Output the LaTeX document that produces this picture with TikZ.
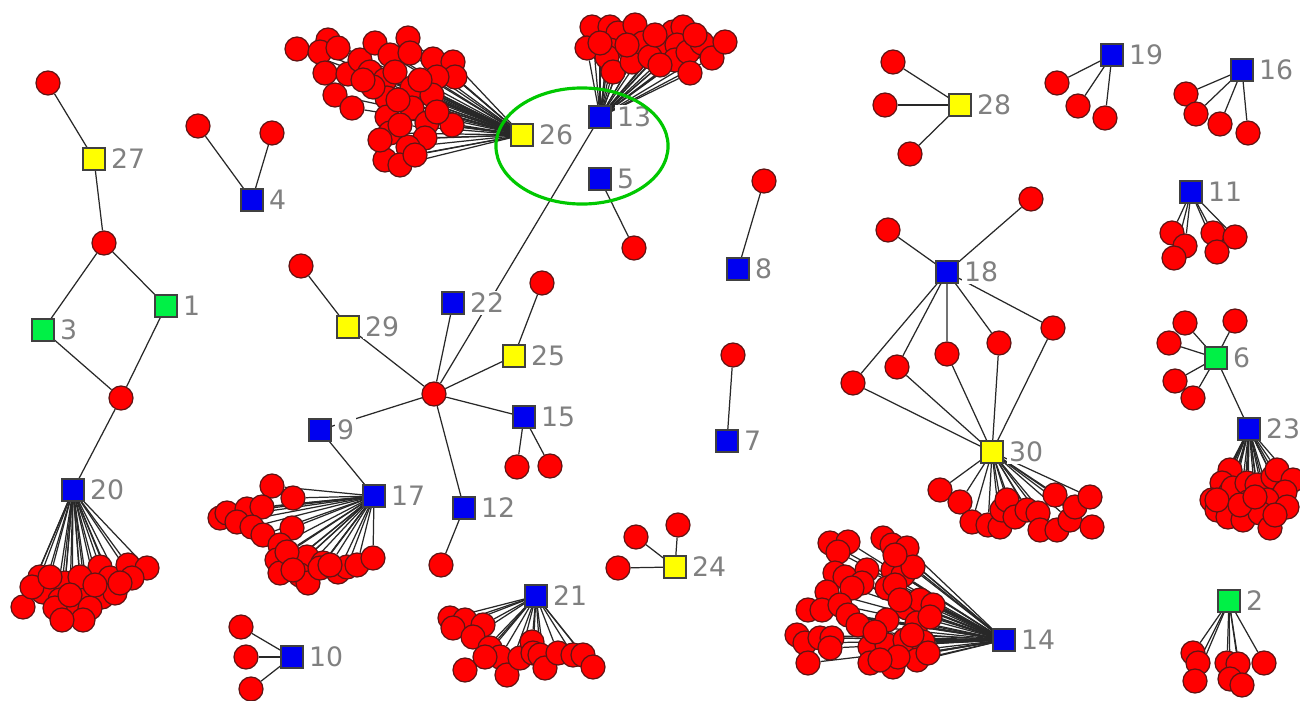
\documentclass[tikz,border=0pt]{standalone}
\usepackage{fontspec}
\usetikzlibrary{shapes.geometric}
\newfontfamily\labfont{DejaVu Sans}
\pgfdeclarelayer{paper}\pgfdeclarelayer{bg}\pgfdeclarelayer{fg}
\pgfsetlayers{paper,bg,main,fg}
\definecolor{nred}{RGB}{255,0,0}
\definecolor{nredline}{RGB}{95,20,20}
\definecolor{nblue}{RGB}{0,0,240}
\definecolor{nyellow}{RGB}{255,255,0}
\definecolor{ngreen}{RGB}{0,240,70}
\definecolor{ring}{RGB}{0,200,0}
\definecolor{labgray}{RGB}{128,128,128}
\definecolor{edgecol}{RGB}{40,40,40}
\tikzset{
  leaf/.style={circle,minimum size=0.24cm,inner sep=0pt,fill=nred,draw=nredline,line width=0.35pt},
  hubsq/.style={rectangle,minimum size=0.22cm,inner sep=0pt,draw=black!75,line width=0.4pt},
  lab/.style={anchor=west,fill=white,inner sep=0.6pt,xshift=0.025cm,text=labgray,font=\labfont\fontsize{7.6}{8}\selectfont},
  edge/.style={draw=edgecol,line width=0.35pt}
}
\newcommand\fannodes[2]{\foreach \px/\py [count=\k] in #2 {\node[leaf] (#1-\k) at (\px,\py) {};}}
\newcommand\fanedges[2]{\foreach \px/\py [count=\k] in #2 {\draw[edge] (#1) -- (#1-\k);}}
\newcommand\hubnode[4]{%
  \node[hubsq,fill=#4] (#1) at (#2) {};
  \node[lab] (#1-lab) at (#1.east) {#3};}
% leaf lists
\def\Lfour{198/126, 272/133}
\def\Ltwentyfour{636/537, 678/525, 618/568}
\def\Lten{241/627, 246/657, 251/689}
\def\Ltwentyeight{893/62, 885/105, 910/154}
\def\Lnineteen{1057/83, 1078/106, 1105/118}
\def\Lsixteen{1186/94, 1196/114, 1220/124, 1248/133}
\def\Leleven{1172/233, 1185/246, 1174/258, 1213/233, 1235/237, 1217/252}
\def\Lsix{1185/323, 1235/321, 1169/343, 1175/381, 1193/398}
\def\Ltwo{1193/653, 1198/663, 1195/681, 1227/663, 1238/664, 1230/679, 1242/685, 1264/663}
\def\Ltwentysix{297/49, 328/40, 320/52, 338/48, 325/73, 348/74, 360/60, 375/43, 390/55, 408/38, 410/53, 433/59, 453/62, 455/77, 437/77, 370/72, 385/80, 395/72, 412/88, 335/95, 352/108, 387/98, 432/95, 387/117, 412/108, 427/123, 452/125, 390/133, 425/138, 408/147, 385/160, 400/165, 437/112, 373/87, 363/80, 400/125, 380/140, 415/155, 398/100, 420/80}
\def\Lthirteen{592/27, 610/27, 618/33, 635/25, 587/48, 610/50, 607/57, 613/72, 632/62, 643/43, 663/50, 673/32, 683/27, 677/45, 675/60, 688/52, 690/73, 702/43, 712/58, 725/42, 650/57, 627/45, 600/43, 655/35, 695/35, 660/65}
\def\Ltwenty{40/577, 23/607, 43/592, 65/583, 60/600, 72/613, 85/590, 100/567, 110/578, 102/597, 115/593, 128/565, 147/568, 132/578, 90/608, 55/608, 80/577, 32/587, 50/577, 83/620, 70/595, 95/585, 120/583, 62/620}
\def\Lseventeen{272/486, 293/498, 220/518, 227/513, 247/509, 262/507, 237/522, 252/527, 292/528, 263/535, 280/545, 277/560, 295/560, 307/557, 300/575, 280/573, 323/563, 338/572, 347/567, 357/565, 373/558, 308/583, 320/568, 287/552, 330/565, 293/570}
\def\Lfourteen{830/543, 848/542, 838/552, 883/538, 892/545, 907/548, 835/573, 845/577, 867/570, 862/583, 852/588, 893/570, 903/575, 913/567, 887/588, 895/585, 827/592, 808/610, 822/610, 840/605, 848/615, 858/625, 907/608, 920/600, 933/605, 887/620, 917/623, 930/617, 797/635, 805/643, 820/638, 832/638, 830/648, 808/663, 870/647, 887/645, 905/640, 923/642, 870/663, 893/667, 917/660, 928/653, 898/657, 880/660, 895/555, 900/600, 875/632, 912/635}
\def\Ltwentythree{1230/470, 1222/483, 1212/500, 1217/510, 1230/493, 1233/488, 1247/483, 1257/485, 1273/477, 1277/470, 1293/480, 1285/492, 1267/500, 1248/502, 1228/517, 1243/520, 1260/513, 1270/528, 1287/507, 1217/500, 1240/505, 1255/497, 1275/515}
\def\Lthirty{940/490, 960/502, 972/522, 988/525, 1000/527, 1002/510, 1007/500, 1015/517, 1027/510, 1038/513, 1040/530, 1055/495, 1057/530, 1070/520, 1075/507, 1090/497, 1092/527}
\def\Ltwentyone{450/618, 465/620, 483/625, 453/628, 473/637, 490/648, 500/657, 465/670, 507/675, 520/658, 532/642, 533/653, 540/655, 545/668, 558/653, 573/655, 583/655, 593/667, 485/657}
\def\Lshared{853/383, 897/367, 947/354, 999/343, 1053/328}
\begin{document}
\begin{tikzpicture}[x=0.01cm,y=-0.01cm]
\useasboundingbox (0,0) rectangle (1300,700);
\begin{pgfonlayer}{paper}
\fill[white] (0,0) rectangle (1300,700);
\end{pgfonlayer}
\begin{pgfonlayer}{fg}
\hubnode{s27}{94,159}{27}{nyellow}
\hubnode{s3}{43,330}{3}{ngreen}
\hubnode{s1}{166,306}{1}{ngreen}
\hubnode{s20}{73,490}{20}{nblue}
\hubnode{s4}{252,200}{4}{nblue}
\hubnode{s26}{522,135}{26}{nyellow}
\hubnode{s13}{600,117}{13}{nblue}
\hubnode{s5}{600,179}{5}{nblue}
\hubnode{s29}{348,327}{29}{nyellow}
\hubnode{s22}{453,303}{22}{nblue}
\hubnode{s25}{514,356}{25}{nyellow}
\hubnode{s15}{524,417}{15}{nblue}
\hubnode{s9}{320,430}{9}{nblue}
\hubnode{s17}{374,496}{17}{nblue}
\hubnode{s12}{464,508}{12}{nblue}
\hubnode{s10}{292,657}{10}{nblue}
\hubnode{s21}{536,596}{21}{nblue}
\hubnode{s24}{675,567}{24}{nyellow}
\hubnode{s8}{738,269}{8}{nblue}
\hubnode{s7}{727,441}{7}{nblue}
\hubnode{s28}{960,105}{28}{nyellow}
\hubnode{s19}{1112,55}{19}{nblue}
\hubnode{s16}{1242,70}{16}{nblue}
\hubnode{s11}{1191,192}{11}{nblue}
\hubnode{s18}{947,272}{18}{nblue}
\hubnode{s6}{1216,358}{6}{ngreen}
\hubnode{s23}{1249,429}{23}{nblue}
\hubnode{s30}{992,452}{30}{nyellow}
\hubnode{s14}{1004,640}{14}{nblue}
\hubnode{s2}{1229,601}{2}{ngreen}
\node[draw=ring,line width=0.9pt,ellipse,minimum width=1.72cm,minimum height=1.16cm,inner sep=0pt] (ring) at (582,146) {};
\end{pgfonlayer}
% single leaves
\node[leaf] (a1) at (48,83) {};
\node[leaf] (a2) at (104,243) {};
\node[leaf] (a3) at (121,398) {};
\node[leaf] (c0) at (434,394) {};
\node[leaf] (c29) at (301,266) {};
\node[leaf] (c25) at (542,283) {};
\node[leaf] (c15a) at (517,467) {};
\node[leaf] (c15b) at (550,466) {};
\node[leaf] (c12) at (441,565) {};
\node[leaf] (c5) at (634,248) {};
\node[leaf] (c8) at (764,181) {};
\node[leaf] (c7) at (733,355) {};
\node[leaf] (r1) at (888,230) {};
\node[leaf] (r2) at (1031,199) {};
\fannodes{m}{\Lshared}
\fannodes{s4}{\Lfour}
\fannodes{s24}{\Ltwentyfour}
\fannodes{s10}{\Lten}
\fannodes{s28}{\Ltwentyeight}
\fannodes{s19}{\Lnineteen}
\fannodes{s16}{\Lsixteen}
\fannodes{s11}{\Leleven}
\fannodes{s6}{\Lsix}
\fannodes{s2}{\Ltwo}
\fannodes{s26}{\Ltwentysix}
\fannodes{s13}{\Lthirteen}
\fannodes{s20}{\Ltwenty}
\fannodes{s17}{\Lseventeen}
\fannodes{s14}{\Lfourteen}
\fannodes{s23}{\Ltwentythree}
\fannodes{s30}{\Lthirty}
\fannodes{s21}{\Ltwentyone}
\begin{pgfonlayer}{bg}
\draw[edge] (a1) -- (s27) -- (a2);
\draw[edge] (a2) -- (s3) -- (a3);
\draw[edge] (a2) -- (s1) -- (a3);
\draw[edge] (a3) -- (s20);
\draw[edge] (c29) -- (s29) -- (c0);
\draw[edge] (c0) -- (s22);
\draw[edge] (c0) -- (s25) -- (c25);
\draw[edge] (c0) -- (s15);
\draw[edge] (s15) -- (c15a);
\draw[edge] (s15) -- (c15b);
\draw[edge] (c0) -- (s9) -- (s17);
\draw[edge] (c0) -- (s12) -- (c12);
\draw[edge] (c0) -- (s13);
\draw[edge] (s5) -- (c5);
\draw[edge] (s8) -- (c8);
\draw[edge] (s7) -- (c7);
\draw[edge] (s18) -- (r1);
\draw[edge] (s18) -- (r2);
\draw[edge] (s6) -- (s23);
\foreach \k in {1,...,5}{\draw[edge] (s18) -- (m-\k) -- (s30);}
\fanedges{s4}{\Lfour}
\fanedges{s24}{\Ltwentyfour}
\fanedges{s10}{\Lten}
\fanedges{s28}{\Ltwentyeight}
\fanedges{s19}{\Lnineteen}
\fanedges{s16}{\Lsixteen}
\fanedges{s11}{\Leleven}
\fanedges{s6}{\Lsix}
\fanedges{s2}{\Ltwo}
\fanedges{s26}{\Ltwentysix}
\fanedges{s13}{\Lthirteen}
\fanedges{s20}{\Ltwenty}
\fanedges{s17}{\Lseventeen}
\fanedges{s14}{\Lfourteen}
\fanedges{s23}{\Ltwentythree}
\fanedges{s30}{\Lthirty}
\fanedges{s21}{\Ltwentyone}
\end{pgfonlayer}
\end{tikzpicture}
\end{document}
